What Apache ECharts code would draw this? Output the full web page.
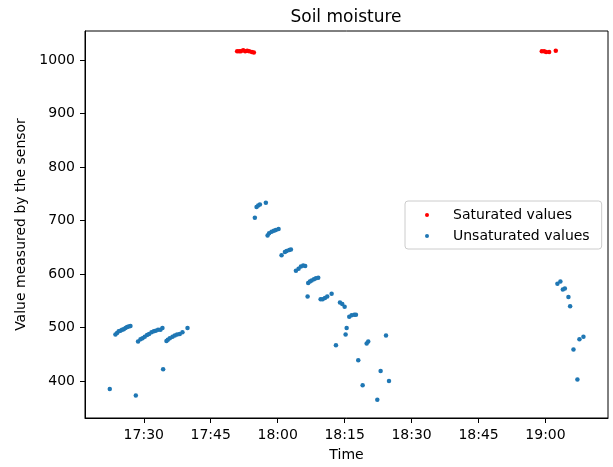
<!DOCTYPE html>
<html>
<head>
<meta charset="utf-8">
<script src="https://cdn.jsdelivr.net/npm/echarts@6/dist/echarts.min.js"></script>
<style>
  html, body { margin: 0; padding: 0; background: #fff; }
  #chart { width: 613px; height: 467px; }
</style>
</head>
<body>
<div id="chart"></div>
<script>
// Readings above the sensor limit
const satTimes = ["17:50:55", "17:51:22", "17:51:45", "17:52:16", "17:52:43", "17:53:10", "17:53:37", "17:54:13", "17:54:40",
  "18:59:10", "18:59:41", "19:00:08", "19:00:49", "19:02:18"];
const satValues = [1016, 1016, 1016, 1018, 1016, 1017, 1016, 1015, 1014,
  1016, 1016, 1015, 1015, 1017];

// Everything else
const unsatTimes = [
  "17:22:23", "17:23:39", "17:24:01", "17:24:23", "17:24:46", "17:25:08", "17:25:31", "17:25:54", "17:26:16", "17:26:38",
  "17:27:01", "17:28:13", "17:28:43", "17:29:16", "17:29:43", "17:30:13", "17:30:44", "17:31:11", "17:31:44", "17:32:15",
  "17:32:41", "17:33:12", "17:33:44", "17:34:11", "17:34:20", "17:35:05", "17:35:23", "17:35:50", "17:36:26", "17:36:57",
  "17:37:28", "17:38:04", "17:38:40", "17:39:48",
  "17:54:53", "17:55:16", "17:55:38", "17:56:01", "17:57:21", "17:57:44", "17:58:05", "17:58:38", "17:59:09", "17:59:36",
  "18:00:12", "18:00:52", "18:01:37", "18:02:00", "18:02:35", "18:02:58", "18:04:05", "18:04:41", "18:05:12", "18:05:43",
  "18:06:10", "18:06:42", "18:06:50", "18:07:13", "18:07:36", "18:08:07", "18:08:34", "18:09:05", "18:09:37", "18:10:04",
  "18:10:35", "18:11:06", "18:12:05", "18:13:03", "18:13:57", "18:14:28", "18:15:00", "18:15:13", "18:15:27", "18:16:02",
  "18:16:34", "18:17:09", "18:17:32", "18:18:03", "18:19:02", "18:19:56", "18:20:17", "18:22:19", "18:23:04", "18:24:16",
  "18:24:56",
  "19:02:40", "19:03:20", "19:03:53", "19:04:20", "19:05:08", "19:05:31", "19:06:16", "19:07:09", "19:07:36", "19:08:30"
];
const unsatValues = [
  385, 487, 490, 493, 494, 496, 497, 499, 501, 502,
  503, 373, 474, 478, 480, 483, 486, 488, 491, 493,
  494, 496, 496, 499, 422, 475, 477, 480, 483, 485,
  487, 488, 491, 499,
  705, 725, 728, 730, 733, 672, 676, 679, 681, 682,
  684, 635, 641, 643, 645, 646, 606, 610, 614, 616,
  615, 558, 583, 586, 588, 590, 592, 593, 553, 553,
  555, 558, 563, 467, 547, 544, 539, 487, 499, 520,
  523, 524, 524, 439, 392, 470, 474, 365, 419, 485,
  400,
  582, 586, 571, 573, 557, 540, 459, 403, 478, 483
];

const xTicks = ["17:30", "17:45", "18:00", "18:15", "18:30", "18:45", "19:00"];
const yTicks = [400, 500, 600, 700, 800, 900, 1000];

// times -> minutes since midnight, plotted on a plain value axis
const toMin = t => {
  const p = t.split(":").map(Number);
  return p[0] * 60 + p[1] + (p[2] || 0) / 60;
};
const pad = n => String(n).padStart(2, "0");
const hhmm = v => { const m = Math.round(v); return pad(Math.floor(m / 60)) + ":" + pad(m % 60); };

const FONT = "DejaVu Sans";
const chart = echarts.init(document.getElementById("chart"));

chart.setOption({
  animation: false,
  backgroundColor: "#fff",
  textStyle: { fontFamily: FONT },
  title: {
    text: "Soil moisture",
    left: 346, top: 9, padding: 0, textAlign: "center",
    textStyle: { fontFamily: FONT, fontSize: 17, fontWeight: "normal", color: "#000" }
  },
  grid: {
    left: 85, right: 5, top: 31, bottom: 42,
    show: true, borderColor: "#000", borderWidth: 1, backgroundColor: "#fff"
  },
  legend: {
    orient: "vertical", left: 405, top: 201,
    padding: [6, 12, 5, 20],
    itemWidth: 42, itemHeight: 4, itemGap: 5,
    icon: "circle",
    borderColor: "#cccccc", borderWidth: 1, borderRadius: 3,
    backgroundColor: "#fff",
    textStyle: { fontFamily: FONT, fontSize: 14, color: "#000", lineHeight: 16 },
    data: ["Saturated values", "Unsaturated values"]
  },
  xAxis: {
    type: "value",
    min: toMin("17:16:50"), max: toMin("19:14:00"),
    name: "Time", nameLocation: "middle", nameGap: 30,
    nameTextStyle: { fontFamily: FONT, fontSize: 14, color: "#000" },
    axisLine: { show: true, lineStyle: { color: "#000", width: 1 } },
    axisTick: { show: true, length: 5, lineStyle: { color: "#000" }, customValues: xTicks.map(toMin) },
    axisLabel: {
      margin: 10, fontFamily: FONT, fontSize: 14, color: "#000",
      customValues: xTicks.map(toMin), formatter: hhmm
    },
    splitLine: { show: false }
  },
  yAxis: {
    type: "value",
    min: 331, max: 1054,
    name: "Value measured by the sensor", nameLocation: "middle", nameRotate: 90, nameGap: 41,
    nameTextStyle: { fontFamily: FONT, fontSize: 14, color: "#000" },
    axisLine: { show: true, lineStyle: { color: "#000", width: 1 } },
    axisTick: { show: true, length: 5, lineStyle: { color: "#000" }, customValues: yTicks },
    axisLabel: {
      margin: 10, fontFamily: FONT, fontSize: 14, color: "#000",
      customValues: yTicks, formatter: v => String(v)
    },
    splitLine: { show: false }
  },
  series: [
    {
      name: "Saturated values",
      type: "scatter",
      symbolSize: 4.5,
      itemStyle: { color: "#ff0000", opacity: 1 },
      data: satTimes.map((t, i) => [toMin(t), satValues[i]])
    },
    {
      name: "Unsaturated values",
      type: "scatter",
      symbolSize: 4.5,
      itemStyle: { color: "#1f77b4", opacity: 1 },
      data: unsatTimes.map((t, i) => [toMin(t), unsatValues[i]])
    }
  ]
});
</script>
</body>
</html>
